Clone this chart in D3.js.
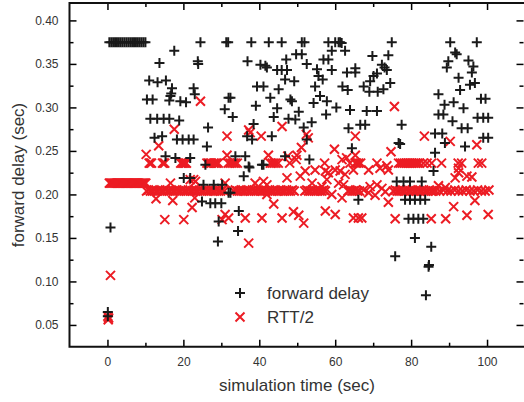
<!DOCTYPE html>
<html>
<head>
<meta charset="utf-8">
<script src="https://cdn.jsdelivr.net/npm/d3@7"></script>
<style>
  body { margin: 0; background: #fff; }
  text { font-family: "Liberation Sans", Arial, sans-serif; }
</style>
</head>
<body>
<div id="chartDiv"></div>
<script>
// forward delay samples [time, delay]
var fwdDelay = [
  [0.1,0.065],[0.1,0.060],[0.8,0.162],
  [0.5,0.375],[1,0.375],[1.5,0.375],[2,0.375],[2.5,0.375],[3,0.375],[3.5,0.375],[4,0.375],[4.5,0.375],[5,0.375],
  [5.5,0.375],[6,0.375],[6.5,0.375],[7,0.375],[7.5,0.375],[8,0.375],[8.5,0.375],[9,0.375],[9.5,0.375],[10,0.375],
  [24.5,0.375],[31.3,0.375],[17.6,0.365],[13.7,0.351],[23.8,0.353],[23.9,0.350],
  [11,0.331],[13.2,0.329],[15.4,0.331],[17,0.322],[16.8,0.316],[22.7,0.322],[23,0.315],
  [10.4,0.309],[11.9,0.309],[16.3,0.308],[16.6,0.313],[19.2,0.307],[20.7,0.306],[30.9,0.298],[31.9,0.311],
  [11.3,0.287],[13.1,0.287],[14.8,0.287],[16.3,0.287],[18.9,0.285],[26.5,0.277],
  [12.4,0.265],[14.4,0.267],[18.3,0.263],[19.8,0.263],[21.4,0.263],[22.7,0.263],[26.2,0.255],
  [15.3,0.244],[17.9,0.242],[21.8,0.242],[25.8,0.234],
  [31.8,0.375],[37.9,0.375],[42.5,0.375],[45.9,0.375],[51.2,0.375],[51.9,0.375],[58.2,0.375],[60,0.375],
  [60.9,0.375],[61.3,0.375],[61.7,0.374],[74.9,0.375],[90.3,0.375],[97.3,0.375],
  [59.1,0.365],[62.6,0.365],[49.7,0.361],[51.2,0.361],[56.9,0.355],[58.2,0.355],[36.9,0.353],[47.1,0.355],[52.5,0.350],
  [40.3,0.349],[41.6,0.348],[42,0.346],[44.7,0.343],[45.9,0.343],[47.3,0.343],[55.2,0.344],[59.1,0.343],[63.1,0.340],[65.3,0.340],
  [55.6,0.336],[56.7,0.332],[46.8,0.332],[49.2,0.330],[39.4,0.324],[41.1,0.324],[45.1,0.321],[54.7,0.324],[61.9,0.324],[63.3,0.320],
  [32.4,0.311],[42.9,0.311],[48.2,0.309],[48.6,0.307],[56,0.313],[57.8,0.307],[54.3,0.305],[39.1,0.302],[44.7,0.299],
  [50.4,0.295],[63.9,0.297],[60.3,0.300],[57.6,0.292],
  [33,0.289],[43.8,0.289],[47.7,0.287],[49.5,0.286],[53.8,0.283],[51.7,0.277],[38.5,0.281],
  [36.8,0.267],[38.1,0.263],[43.3,0.267],[52.5,0.263],[63.5,0.276],[64.4,0.253],
  [33.7,0.244],[36.3,0.244],[46.8,0.244],[53.2,0.240],[37.2,0.232],[41.1,0.234],
  [69.8,0.359],[74,0.360],[72.3,0.349],[73,0.346],[73.6,0.343],[71,0.339],[70.1,0.336],[69.2,0.330],[74.5,0.328],
  [67.5,0.324],[69,0.318],[71.2,0.318],[72.7,0.321],[65.3,0.345],
  [68.3,0.296],[71,0.296],[66.6,0.280],[67.9,0.280],[77.5,0.280],[76.7,0.259],[77.1,0.258],
  [91.6,0.363],[92,0.361],[89.8,0.353],[89.4,0.346],[95.1,0.354],[96.4,0.347],[96,0.340],
  [92.5,0.334],[95.5,0.326],[96.8,0.328],[92.9,0.320],[87.2,0.315],[98.4,0.310],[99.6,0.310],
  [88.8,0.303],[91.2,0.306],[93.8,0.299],[87.2,0.292],[88.5,0.292],[90.9,0.284],
  [97.5,0.288],[99,0.288],[100.3,0.288],[93.3,0.276],[94.9,0.276],[86.3,0.270],[88.2,0.270],
  [99,0.265],[100.3,0.265],[88.9,0.259],[94.2,0.255],[86.3,0.248],
  [85.9,0.227],[76.2,0.215],[78,0.215],[79.7,0.215],[82.8,0.215],
  [78.4,0.194],[79.7,0.194],[81,0.194],[82.4,0.194],[83.7,0.194],[66.1,0.194],
  [79.3,0.172],[80.6,0.172],[81.9,0.172],[83.2,0.172],[81,0.150],[85.3,0.140],[75.8,0.129],
  [84.7,0.119],[84.6,0.117],[83.9,0.084],
  [20.1,0.219],[21.8,0.219],[25.3,0.211],[28,0.211],[30.2,0.211],
  [24.9,0.192],[27.1,0.190],[28.4,0.190],[30,0.190],[29.3,0.169],[29.1,0.146],[31.9,0.202],
  [35.9,0.221],[37.4,0.231],[40.7,0.234],[32.4,0.202],[34.6,0.181],[34.4,0.158]
];

// RTT/2 samples [time, value]
var rttHalf = [
  [0.1,0.060],[0.3,0.058],[0.2,0.056],[0.8,0.107],
  // flat part at start
  [0.5,0.213],[0.8,0.213],[1.1,0.213],[1.4,0.213],[1.7,0.213],[2,0.213],[2.3,0.213],[2.6,0.213],[2.9,0.213],
  [3.2,0.213],[3.5,0.213],[3.8,0.213],[4.1,0.213],[4.4,0.213],[4.7,0.213],[5,0.213],[5.3,0.213],[5.6,0.213],
  [5.9,0.213],[6.2,0.213],[6.5,0.213],[6.8,0.213],[7.1,0.213],[7.4,0.213],[7.7,0.213],[8,0.213],[8.3,0.213],
  [8.6,0.213],[8.9,0.213],[9.2,0.213],[9.5,0.213],[9.8,0.213],[10.1,0.213],
  // lower band
  [10.3,0.204],[10.8,0.205],[11.3,0.204],[11.8,0.204],[12.3,0.205],[12.8,0.204],[13.3,0.204],[13.8,0.205],
  [14.3,0.204],[14.8,0.204],[15.3,0.205],[15.8,0.204],[16.3,0.204],[16.8,0.205],[17.3,0.204],[17.8,0.204],
  [18.3,0.205],[18.8,0.204],[19.3,0.204],[19.8,0.205],[20.3,0.204],[20.8,0.204],[21.3,0.205],[21.8,0.204],
  [22.3,0.204],[22.8,0.205],[23.3,0.204],[23.8,0.204],[24.3,0.205],[24.8,0.204],[25.3,0.204],[25.8,0.205],
  [26.3,0.204],[26.8,0.204],[27.3,0.205],[27.8,0.204],[28.3,0.204],[28.8,0.205],[29.3,0.204],[29.8,0.204],
  [30.3,0.205],[30.8,0.204],
  [33.2,0.204],[33.7,0.205],[34.2,0.204],[34.7,0.204],[35.2,0.205],[35.7,0.204],[36.2,0.204],[36.7,0.205],
  [37.2,0.204],[37.7,0.204],[38.2,0.205],[38.7,0.204],[39.2,0.204],[39.7,0.205],[40.2,0.204],[40.7,0.204],
  [41.2,0.205],[41.7,0.204],[42.2,0.204],[42.7,0.205],[43.2,0.204],[43.7,0.204],[44.2,0.205],[44.7,0.204],
  [45.2,0.204],[45.7,0.205],[46.2,0.204],[46.7,0.204],[47.2,0.205],[47.7,0.204],[48.2,0.204],[48.7,0.205],
  [49.2,0.204],
  [52,0.204],[52.5,0.205],[53,0.204],[53.5,0.204],[54,0.205],[54.5,0.204],[55,0.204],[55.5,0.205],
  [56,0.204],[56.5,0.204],[57,0.205],[57.4,0.204],
  [63.4,0.204],[63.9,0.205],[64.4,0.204],[64.9,0.204],[65.4,0.205],[65.9,0.204],[66.4,0.204],
  [75.3,0.204],[75.8,0.205],[76.3,0.204],[76.8,0.204],[77.3,0.205],[77.8,0.204],[78.3,0.204],[78.8,0.205],
  [79.3,0.204],[79.8,0.204],[80.3,0.205],[80.8,0.204],[81.3,0.204],[81.8,0.205],[82.3,0.204],[82.8,0.204],
  [83.3,0.205],[83.8,0.204],[84.3,0.204],[84.8,0.205],[85.3,0.204],[85.8,0.204],[86.5,0.204],[87.5,0.204],
  [88.5,0.205],[89.5,0.204],[90.5,0.204],[91.5,0.205],[92.5,0.204],[93.5,0.204],[94.5,0.205],[95.5,0.204],
  [96.5,0.204],[97.5,0.205],[98.5,0.204],[99.5,0.204],[100.5,0.205],
  // upper band
  [11,0.236],[11.3,0.236],[11.6,0.236],[14.5,0.236],[14.8,0.236],[15.1,0.236],
  [19.3,0.236],[19.6,0.236],[19.9,0.236],[20.2,0.236],[20.5,0.236],[20.8,0.236],
  [26.2,0.236],[26.6,0.236],[27,0.236],[27.4,0.236],[28,0.236],[28.4,0.236],[28.8,0.236],[29.2,0.236],
  [31.8,0.236],[32.3,0.236],[32.8,0.236],[33.3,0.236],[33.7,0.236],[34.2,0.236],
  [42.9,0.236],[43.4,0.236],[43.9,0.236],[44.4,0.236],[45,0.236],[48,0.236],[57.2,0.236],
  [63.9,0.236],[65.3,0.236],[65.7,0.236],[66.2,0.236],[66.7,0.236],[71,0.236],[73.6,0.233],
  [76.7,0.236],[77.2,0.236],[77.7,0.236],[78.2,0.236],[78.7,0.236],[79.2,0.236],[79.7,0.236],[80.2,0.236],
  [80.7,0.236],[81.2,0.236],[81.7,0.236],[82.2,0.236],[83.2,0.236],[84.2,0.236],[85.4,0.236],
  [88,0.236],[92.4,0.236],[93.3,0.236],[97.7,0.236],[98.6,0.236],
  // scattered
  [24.5,0.307],[17.6,0.275],[13.5,0.256],[10.2,0.246],[31.5,0.267],[31.5,0.245],
  [37.2,0.274],[37.6,0.271],[40.5,0.267],[46,0.278],[52.4,0.269],[52.9,0.265],[65.3,0.267],
  [42.4,0.245],[47.5,0.244],[49.9,0.245],[49.7,0.240],[51.1,0.254],[59.8,0.252],[61.8,0.240],
  [63,0.242],[65.3,0.245],
  [75.6,0.301],[83.5,0.267],[90.3,0.261],[97.3,0.257],[74.7,0.249],
  [68.8,0.228],[71.8,0.230],[74,0.228],[91.6,0.219],[92.5,0.225],[94.7,0.221],[96,0.220],[92.5,0.230],
  [87.2,0.210],[89,0.208],
  [67.5,0.205],[69.2,0.209],[71,0.211],[72.3,0.207],[73.2,0.203],[68.8,0.202],[70.5,0.199],
  [74,0.191],[91.2,0.186],[96.8,0.193],[94.7,0.176],[100.3,0.177],[75.8,0.172],[85.3,0.172],[89.1,0.172],
  [66.1,0.173],[67,0.173],
  [31,0.213],[38.9,0.213],[41.1,0.215],[42,0.211],[43.8,0.189],[47.3,0.219],[50.8,0.221],[52.1,0.227],
  [54.7,0.228],[57.4,0.227],[58.2,0.225],[60,0.228],[61.3,0.227],[62.6,0.223],[64.8,0.228],
  [53.9,0.213],[56.5,0.209],[57.8,0.217],[60.9,0.213],[62.2,0.211],[59.1,0.200],[61.8,0.196],
  [31.9,0.173],[36.3,0.173],[40.7,0.173],[46,0.173],[49,0.180],[50.4,0.176],[51.7,0.167],
  [57.4,0.181],[60,0.177],[64.8,0.173],[37.2,0.144],[42,0.200],
  [16.6,0.213],[21.8,0.217],[23.2,0.215],[22.7,0.217],[12.8,0.195],[17.2,0.193],[22.3,0.185],[23,0.196],
  [15.1,0.171],[20.1,0.171],[30.2,0.171],[31,0.177]
];

var xTicks = [0, 20, 40, 60, 80, 100];
var yTicks = [0.05, 0.10, 0.15, 0.20, 0.25, 0.30, 0.35, 0.40];
var legendLabels = ["forward delay", "RTT/2"];

var W = 524, H = 402;
var plotL = 69.5, plotR = 525, plotT = 3, plotB = 346.7;

var svg = d3.select("#chartDiv")
  .append("svg")
    .attr("width", W)
    .attr("height", H);

var xScale = d3.scaleLinear().domain([-10, 110]).range([plotL, plotR]);
var yScale = d3.scaleLinear().domain([0.025, 0.42]).range([plotB, plotT]);

var xMinor = [10, 30, 50, 70, 90];
var yMinor = [0.075, 0.125, 0.175, 0.225, 0.275, 0.325, 0.375];

// axes, ticks pointing inward
function styleAxis(g) {
  g.select(".domain").remove();
  g.selectAll("line").attr("stroke", "#000").attr("stroke-width", 1.5);
  g.selectAll("text").attr("fill", "#333").style("font-size", "12px")
    .style("font-family", "'Liberation Sans', Arial, sans-serif");
}

svg.append("g").attr("transform", "translate(0," + plotB + ")")
  .call(d3.axisBottom(xScale).tickValues(xTicks).tickSize(-7).tickPadding(11).tickFormat(d3.format("d")))
  .call(styleAxis);
svg.append("g").attr("transform", "translate(0," + plotB + ")")
  .call(d3.axisBottom(xScale).tickValues(xMinor).tickSize(-4).tickFormat(""))
  .call(styleAxis);
svg.append("g").attr("transform", "translate(0," + plotT + ")")
  .call(d3.axisTop(xScale).tickValues(xTicks).tickSize(-7).tickFormat(""))
  .call(styleAxis);
svg.append("g").attr("transform", "translate(0," + plotT + ")")
  .call(d3.axisTop(xScale).tickValues(xMinor).tickSize(-4).tickFormat(""))
  .call(styleAxis);

svg.append("g").attr("transform", "translate(" + plotL + ",0)")
  .call(d3.axisLeft(yScale).tickValues(yTicks).tickSize(-7).tickPadding(11).tickFormat(d3.format(".2f")))
  .call(styleAxis);
svg.append("g").attr("transform", "translate(" + plotL + ",0)")
  .call(d3.axisLeft(yScale).tickValues(yMinor).tickSize(-4).tickFormat(""))
  .call(styleAxis);
svg.append("g").attr("transform", "translate(" + (W - 0.5) + ",0)")
  .call(d3.axisRight(yScale).tickValues(yTicks).tickSize(-7).tickFormat(""))
  .call(styleAxis);
svg.append("g").attr("transform", "translate(" + (W - 0.5) + ",0)")
  .call(d3.axisRight(yScale).tickValues(yMinor).tickSize(-4).tickFormat(""))
  .call(styleAxis);

// frame
svg.append("path")
  .attr("d", "M" + plotR + "," + plotT + "H" + plotL + "V" + plotB + "H" + plotR)
  .attr("fill", "none")
  .attr("stroke", "#111")
  .attr("stroke-width", 2);

var plusPath = "M-5,0H5M0,-5V5";
var crossPath = "M-4.5,-4.5L4.5,4.5M-4.5,4.5L4.5,-4.5";
var red = "#ec1c24", black = "#1a1a1a";

// data points (red first, black on top)
svg.append("g").selectAll("path")
  .data(rttHalf)
  .enter().append("path")
    .attr("d", crossPath)
    .attr("transform", function(d) { return "translate(" + xScale(d[0]) + "," + yScale(d[1]) + ")"; })
    .attr("stroke", red)
    .attr("stroke-width", 2)
    .attr("fill", "none");

svg.append("g").selectAll("path")
  .data(fwdDelay)
  .enter().append("path")
    .attr("d", plusPath)
    .attr("transform", function(d) { return "translate(" + xScale(d[0]) + "," + yScale(d[1]) + ")"; })
    .attr("stroke", black)
    .attr("stroke-width", 2)
    .attr("fill", "none");

// legend
var legend = svg.append("g").attr("transform", "translate(240,293)");
legend.append("path").attr("d", plusPath).attr("stroke", black).attr("stroke-width", 2);
legend.append("path").attr("d", crossPath).attr("transform", "translate(0,24)")
  .attr("stroke", red).attr("stroke-width", 2);
legend.selectAll("text")
  .data(legendLabels)
  .enter().append("text")
    .attr("x", 27)
    .attr("y", function(d, i) { return i * 24 + 6; })
    .attr("fill", "#333")
    .style("font-size", "17px")
    .text(function(d) { return d; });

// axis titles
svg.append("text")
  .attr("x", 297).attr("y", 391)
  .attr("text-anchor", "middle")
  .attr("fill", "#333")
  .style("font-size", "17px")
  .text("simulation time (sec)");

svg.append("text")
  .attr("transform", "translate(24,175) rotate(-90)")
  .attr("text-anchor", "middle")
  .attr("fill", "#333")
  .style("font-size", "17px")
  .text("forward delay (sec)");
</script>
</body>
</html>
